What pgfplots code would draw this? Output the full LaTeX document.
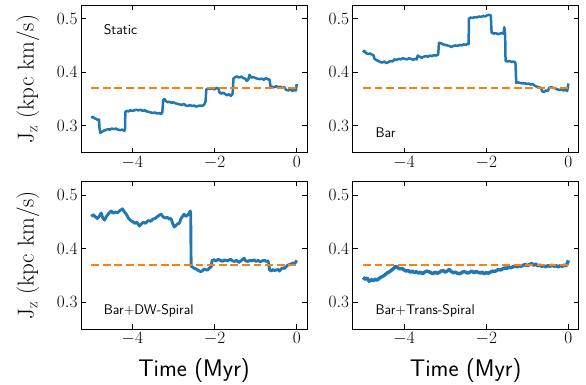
\documentclass[border=0pt]{standalone}
\usepackage{fontspec}
\usepackage{pgfplots}
\usepackage{pgfplotstable}
\pgfplotsset{compat=1.18}
\definecolor{mplblue}{HTML}{1F77B4}
\definecolor{mplorange}{HTML}{FF7F0E}

\pgfplotstableread{
x y
-5.00 0.315
-4.96 0.317
-4.92 0.314
-4.88 0.313
-4.84 0.311
-4.81 0.312
-4.80 0.296
-4.78 0.287
-4.74 0.289
-4.70 0.291
-4.65 0.292
-4.60 0.294
-4.55 0.293
-4.50 0.295
-4.45 0.294
-4.40 0.295
-4.35 0.293
-4.30 0.292
-4.25 0.293
-4.20 0.291
-4.18 0.292
-4.17 0.326
-4.14 0.328
-4.10 0.327
-4.05 0.329
-4.00 0.328
-3.95 0.329
-3.90 0.330
-3.85 0.329
-3.80 0.330
-3.75 0.328
-3.70 0.329
-3.65 0.327
-3.60 0.326
-3.55 0.325
-3.50 0.324
-3.45 0.325
-3.40 0.323
-3.35 0.324
-3.30 0.322
-3.27 0.326
-3.25 0.348
-3.22 0.350
-3.18 0.346
-3.14 0.344
-3.10 0.345
-3.05 0.343
-3.00 0.344
-2.95 0.342
-2.90 0.341
-2.85 0.340
-2.80 0.339
-2.75 0.341
-2.70 0.338
-2.65 0.337
-2.60 0.339
-2.55 0.337
-2.50 0.338
-2.45 0.336
-2.40 0.337
-2.35 0.338
-2.30 0.337
-2.25 0.340
-2.22 0.345
-2.20 0.368
-2.15 0.370
-2.10 0.369
-2.05 0.370
-2.00 0.368
-1.95 0.371
-1.90 0.369
-1.88 0.363
-1.85 0.360
-1.80 0.362
-1.75 0.360
-1.70 0.357
-1.65 0.359
-1.60 0.356
-1.56 0.360
-1.54 0.388
-1.50 0.391
-1.45 0.392
-1.40 0.390
-1.35 0.392
-1.30 0.389
-1.25 0.388
-1.22 0.384
-1.18 0.386
-1.15 0.395
-1.10 0.390
-1.05 0.391
-1.00 0.389
-0.95 0.388
-0.90 0.387
-0.85 0.388
-0.80 0.386
-0.75 0.389
-0.70 0.387
-0.66 0.386
-0.64 0.374
-0.60 0.373
-0.55 0.372
-0.50 0.374
-0.45 0.372
-0.40 0.373
-0.35 0.371
-0.30 0.372
-0.26 0.367
-0.20 0.366
-0.15 0.368
-0.10 0.365
-0.05 0.367
-0.02 0.366
0.00 0.378
}\staticdata

\pgfplotstableread{
x y
-5.00 0.437
-4.97 0.440
-4.93 0.436
-4.88 0.434
-4.83 0.435
-4.78 0.433
-4.74 0.431
-4.72 0.425
-4.68 0.423
-4.63 0.421
-4.58 0.419
-4.53 0.418
-4.48 0.420
-4.43 0.417
-4.38 0.419
-4.33 0.421
-4.28 0.420
-4.23 0.424
-4.18 0.423
-4.13 0.425
-4.08 0.424
-4.03 0.426
-3.98 0.425
-3.93 0.424
-3.88 0.426
-3.83 0.425
-3.78 0.423
-3.73 0.425
-3.69 0.424
-3.67 0.431
-3.62 0.429
-3.57 0.427
-3.52 0.429
-3.47 0.430
-3.42 0.429
-3.37 0.431
-3.32 0.430
-3.27 0.432
-3.22 0.431
-3.17 0.433
-3.15 0.455
-3.10 0.454
-3.05 0.452
-3.00 0.451
-2.95 0.450
-2.90 0.449
-2.85 0.447
-2.80 0.449
-2.75 0.450
-2.70 0.449
-2.65 0.451
-2.60 0.450
-2.55 0.452
-2.50 0.451
-2.45 0.453
-2.43 0.452
-2.42 0.500
-2.38 0.502
-2.33 0.501
-2.28 0.503
-2.23 0.502
-2.18 0.504
-2.13 0.503
-2.08 0.505
-2.03 0.504
-1.98 0.506
-1.93 0.507
-1.89 0.506
-1.87 0.474
-1.82 0.472
-1.77 0.473
-1.72 0.471
-1.67 0.472
-1.62 0.473
-1.58 0.472
-1.56 0.484
-1.54 0.470
-1.53 0.421
-1.48 0.420
-1.43 0.421
-1.38 0.419
-1.33 0.420
-1.29 0.418
-1.27 0.380
-1.22 0.381
-1.17 0.380
-1.12 0.379
-1.07 0.380
-1.02 0.378
-0.97 0.379
-0.92 0.377
-0.87 0.378
-0.82 0.375
-0.77 0.373
-0.72 0.372
-0.67 0.371
-0.64 0.365
-0.60 0.363
-0.55 0.366
-0.50 0.365
-0.47 0.371
-0.42 0.372
-0.37 0.371
-0.32 0.370
-0.27 0.368
-0.22 0.367
-0.17 0.368
-0.12 0.366
-0.07 0.367
-0.03 0.365
0.00 0.379
}\bardata

\pgfplotstableread{
x y
-5.00 0.460
-4.95 0.463
-4.90 0.459
-4.85 0.456
-4.80 0.461
-4.76 0.466
-4.72 0.457
-4.68 0.453
-4.63 0.460
-4.58 0.465
-4.52 0.470
-4.47 0.466
-4.42 0.468
-4.36 0.467
-4.30 0.471
-4.24 0.474
-4.19 0.468
-4.14 0.463
-4.09 0.456
-4.04 0.452
-3.99 0.450
-3.94 0.447
-3.89 0.449
-3.83 0.442
-3.78 0.446
-3.73 0.449
-3.68 0.447
-3.62 0.452
-3.55 0.451
-3.50 0.455
-3.45 0.456
-3.40 0.459
-3.35 0.462
-3.30 0.464
-3.25 0.459
-3.20 0.457
-3.15 0.458
-3.10 0.455
-3.06 0.456
-3.02 0.447
-2.98 0.440
-2.94 0.443
-2.90 0.446
-2.86 0.447
-2.82 0.455
-2.78 0.460
-2.74 0.464
-2.70 0.460
-2.66 0.462
-2.62 0.466
-2.59 0.470
-2.58 0.464
-2.57 0.367
-2.53 0.365
-2.49 0.363
-2.45 0.362
-2.41 0.360
-2.37 0.358
-2.33 0.357
-2.29 0.359
-2.25 0.362
-2.21 0.360
-2.17 0.360
-2.12 0.364
-2.08 0.366
-2.06 0.378
-2.01 0.379
-1.96 0.377
-1.91 0.380
-1.86 0.378
-1.81 0.376
-1.76 0.379
-1.71 0.377
-1.66 0.378
-1.61 0.380
-1.56 0.377
-1.51 0.376
-1.46 0.378
-1.41 0.374
-1.36 0.377
-1.31 0.380
-1.28 0.382
-1.24 0.377
-1.19 0.376
-1.14 0.378
-1.09 0.377
-1.04 0.379
-0.99 0.376
-0.94 0.378
-0.89 0.375
-0.84 0.377
-0.79 0.378
-0.74 0.376
-0.70 0.377
-0.68 0.372
-0.66 0.360
-0.62 0.358
-0.58 0.361
-0.54 0.359
-0.50 0.360
-0.46 0.361
-0.42 0.358
-0.38 0.362
-0.34 0.364
-0.30 0.363
-0.26 0.366
-0.22 0.369
-0.18 0.370
-0.14 0.371
-0.10 0.373
-0.06 0.372
-0.03 0.374
0.00 0.378
}\dwdata

\pgfplotstableread{
x y
-5.00 0.346
-4.95 0.343
-4.90 0.345
-4.85 0.339
-4.80 0.342
-4.75 0.340
-4.70 0.343
-4.65 0.341
-4.60 0.345
-4.55 0.347
-4.50 0.349
-4.45 0.352
-4.40 0.355
-4.35 0.357
-4.30 0.360
-4.25 0.363
-4.20 0.367
-4.15 0.364
-4.10 0.362
-4.05 0.363
-4.00 0.360
-3.95 0.358
-3.90 0.359
-3.85 0.356
-3.80 0.358
-3.75 0.355
-3.70 0.357
-3.65 0.354
-3.60 0.356
-3.55 0.353
-3.50 0.356
-3.45 0.358
-3.40 0.357
-3.35 0.355
-3.30 0.353
-3.25 0.356
-3.20 0.354
-3.15 0.355
-3.10 0.358
-3.05 0.359
-3.00 0.356
-2.95 0.358
-2.90 0.361
-2.85 0.357
-2.80 0.355
-2.75 0.356
-2.70 0.354
-2.65 0.353
-2.60 0.355
-2.55 0.357
-2.50 0.356
-2.45 0.354
-2.40 0.356
-2.35 0.358
-2.30 0.355
-2.25 0.357
-2.20 0.356
-2.15 0.354
-2.10 0.356
-2.05 0.353
-2.00 0.355
-1.95 0.354
-1.90 0.356
-1.85 0.358
-1.80 0.357
-1.75 0.359
-1.70 0.361
-1.65 0.360
-1.60 0.362
-1.55 0.364
-1.50 0.363
-1.45 0.365
-1.40 0.364
-1.35 0.366
-1.30 0.367
-1.25 0.366
-1.20 0.368
-1.15 0.367
-1.10 0.369
-1.05 0.370
-1.00 0.368
-0.95 0.370
-0.90 0.372
-0.85 0.369
-0.80 0.371
-0.75 0.368
-0.70 0.369
-0.65 0.367
-0.60 0.368
-0.55 0.366
-0.50 0.368
-0.45 0.367
-0.40 0.369
-0.35 0.367
-0.30 0.368
-0.25 0.366
-0.20 0.368
-0.15 0.367
-0.10 0.369
-0.05 0.368
0.00 0.378
}\tsdata

\tikzset{plab/.style={font=\sffamily\fontsize{14}{14}\selectfont, anchor=base west, inner sep=0pt}}
\pgfplotsset{
  panel/.style={
    scale only axis, width=226pt, height=147.5pt,
    xmin=-5.25, xmax=0.25, ymin=0.25, ymax=0.525,
    xtick={-4,-2,0}, ytick={0.3,0.4,0.5},
    xticklabels={$-4$,$-2$,$0$}, yticklabels={$0.3$,$0.4$,$0.5$},
    minor tick num=0,
    tick align=inside, major tick length=5pt,
    xtick pos=both, ytick pos=both,
    tick label style={font=\fontsize{18}{18}\selectfont},
    axis line style={line width=0.8pt},
    tick style={line width=0.8pt, black},
  },
  blueline/.style={mplblue, line width=2.5pt, line join=round},
  refline/.style={mplorange, line width=2.2pt, dash pattern=on 7.8pt off 3.8pt},
  ylab/.style={ylabel={$\mathrm{J_z}$ (kpc km/s)},
    ylabel style={font=\fontsize{23}{23}\selectfont, at={(axis description cs:-0.235,0.5)}, anchor=center}},
  xlab/.style={xlabel={Time (Myr)},
    xlabel style={font=\sffamily\fontsize{24}{24}\selectfont, at={(axis description cs:0.5,-0.324)}, anchor=base}},
}

\begin{document}
\begin{tikzpicture}
\begin{axis}[panel, ylab, at={(81pt,232.3pt)}, anchor=south west]
\addplot[blueline] table {\staticdata};
\addplot[refline] coordinates {(-5,0.37) (0,0.37)};
\node[plab] at (axis description cs:0.1,0.8) {Static};
\end{axis}
\begin{axis}[panel, at={(352.7pt,232.3pt)}, anchor=south west]
\addplot[blueline] table {\bardata};
\addplot[refline] coordinates {(-5,0.37) (0,0.37)};
\node[plab] at (axis description cs:0.1,0.1) {Bar};
\end{axis}
\begin{axis}[panel, ylab, xlab, at={(81pt,56pt)}, anchor=south west]
\addplot[blueline, line width=2.9pt] table {\dwdata};
\addplot[refline] coordinates {(-5,0.37) (0,0.37)};
\node[plab] at (axis description cs:0.1,0.1) {Bar+DW-Spiral};
\end{axis}
\begin{axis}[panel, xlab, at={(352.7pt,56pt)}, anchor=south west]
\addplot[blueline, line width=3.4pt] table {\tsdata};
\addplot[refline] coordinates {(-5,0.37) (0,0.37)};
\node[plab] at (axis description cs:0.1,0.1) {Bar+Trans-Spiral};
\end{axis}
\pgfresetboundingbox
\path[use as bounding box] (0,0) rectangle (586pt,385pt);
\end{tikzpicture}
\end{document}
